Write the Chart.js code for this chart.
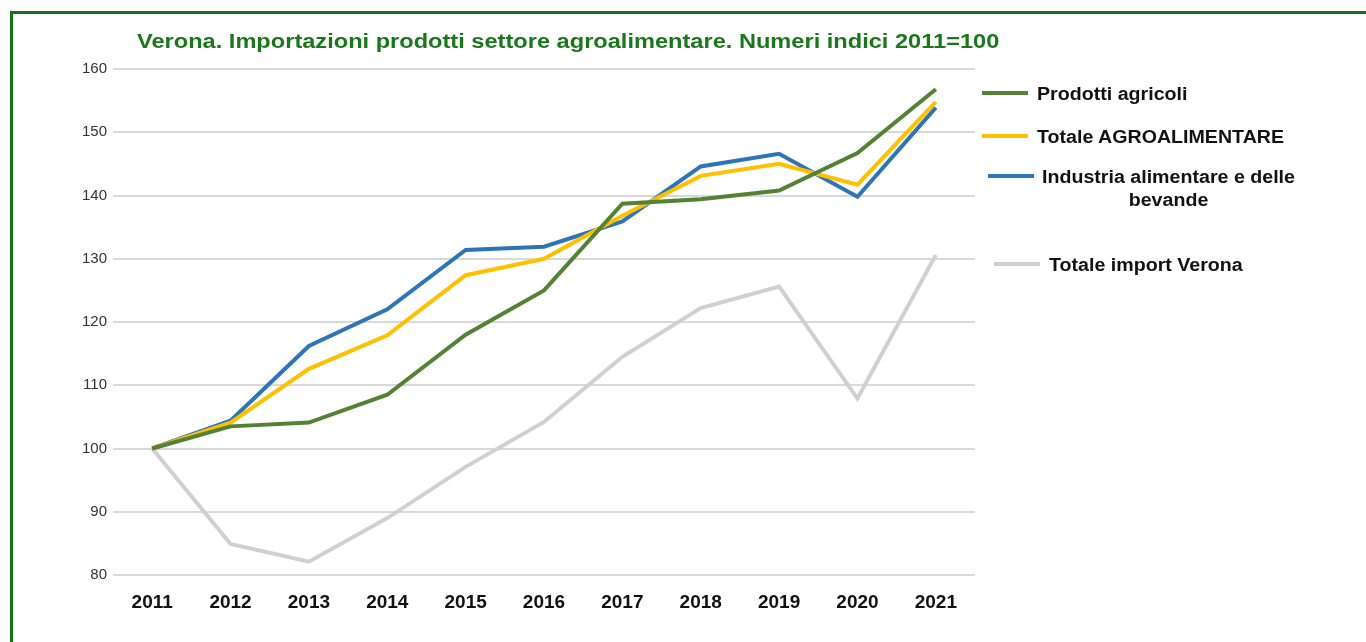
<!DOCTYPE html>
<html>
<head>
<meta charset="utf-8">
<title>Verona importazioni agroalimentare</title>
<script src="https://cdn.jsdelivr.net/npm/chart.js@4"></script>
<style>
  html, body { margin: 0; padding: 0; background: #fff; }
  #wrap { position: relative; width: 1366px; height: 642px; overflow: hidden; font-family: "Liberation Sans", Arial, sans-serif; }
  #frame { position: absolute; left: 10px; top: 11px; width: 1500px; height: 800px; border: 3px solid #177317; }
  #box { position: absolute; left: 0; top: 0; width: 1366px; height: 642px; }
  #title { position: absolute; left: 137px; top: 30px; font-size: 20px; font-weight: bold; color: #1b771b; white-space: nowrap; transform: scaleX(1.18); transform-origin: left center; }
  .leg { position: absolute; font-size: 18px; font-weight: bold; color: #111; white-space: nowrap; line-height: 23px; }
  .leg .swatch { position: absolute; height: 4px; width: 46px; }
  .txt { transform: scaleX(1.09); transform-origin: left center; }
</style>
</head>
<body>
<div id="wrap">
  <div id="frame"></div>
  <div id="box"><canvas id="chart"></canvas></div>
  <div id="title">Verona. Importazioni prodotti settore agroalimentare. Numeri indici 2011=100</div>
  <div id="legend"></div>
</div>
<script>
const years = ["2011", "2012", "2013", "2014", "2015", "2016", "2017", "2018", "2019", "2020", "2021"];
const prodottiAgricoli = [100, 103.5, 104.1, 108.5, 118, 125, 138.7, 139.4, 140.8, 146.7, 156.8];
const totaleAgro = [100, 104.1, 112.6, 117.9, 127.4, 130, 136.8, 143.1, 145, 141.7, 154.8];
const industriaAlimentare = [100, 104.4, 116.2, 122, 131.4, 131.9, 135.9, 144.6, 146.6, 139.8, 153.9];
const totaleImport = [100, 84.9, 82.1, 89, 97.1, 104.2, 114.5, 122.2, 125.6, 107.9, 130.6];
const seriesNames = [["Prodotti agricoli"], ["Totale AGROALIMENTARE"], ["Industria alimentare e delle", "bevande"], ["Totale import Verona"]];
const seriesColors = ["#548235", "#ffc000", "#2e75b6", "#d0d0d0"];

const seriesData = [prodottiAgricoli, totaleAgro, industriaAlimentare, totaleImport];

const ctx = document.getElementById("chart");
new Chart(ctx, {
  type: "line",
  data: {
    labels: years,
    datasets: seriesData.map(function (d, i) {
      return {
        label: seriesNames[i].join(" "),
        data: d,
        borderColor: seriesColors[i],
        backgroundColor: seriesColors[i],
        borderWidth: 4,
        pointRadius: 0,
        tension: 0,
      };
    }),
  },
  options: {
    responsive: true,
    maintainAspectRatio: false,
    animation: false,
    layout: { padding: { left: 0, top: 69, right: 391, bottom: 0 } },
    plugins: {
      legend: { display: false },
      tooltip: { enabled: false },
    },
    scales: {
      x: {
        offset: true,
        grid: { display: false, drawTicks: false },
        border: { display: false },
        ticks: { color: "#111", padding: 16, font: { family: "Liberation Sans", size: 19, weight: "bold" } },
        afterFit: function (s) { s.height = 67; },
      },
      y: {
        min: 80,
        max: 160,
        ticks: { stepSize: 10, color: "#333", padding: 6, font: { family: "Liberation Sans", size: 15 } },
        grid: { color: "#d9d9d9", lineWidth: 2, drawTicks: false },
        border: { display: false },
        afterFit: function (s) { s.width = 113; },
      },
    },
  },
});

// legend on the right, built from the series names and colours
const legendPos = [
  { y: 93, line: 982, text: 1037 },
  { y: 136, line: 982, text: 1037 },
  { y: 176, line: 988, text: 1042 },
  { y: 264, line: 994, text: 1049 },
];
const legend = document.getElementById("legend");
seriesNames.forEach(function (lines, i) {
  const p = legendPos[i];
  const sw = document.createElement("div");
  sw.className = "leg";
  sw.style.left = p.line + "px";
  sw.style.top = p.y - 2 + "px";
  sw.innerHTML = '<div class="swatch" style="background:' + seriesColors[i] + '"></div>';
  legend.appendChild(sw);
  const t = document.createElement("div");
  t.className = "leg txt";
  t.style.left = p.text + "px";
  t.style.top = p.y - 10 + "px";
  t.style.textAlign = "center";
  t.innerHTML = lines.join("<br>");
  legend.appendChild(t);
});
</script>
</body>
</html>
